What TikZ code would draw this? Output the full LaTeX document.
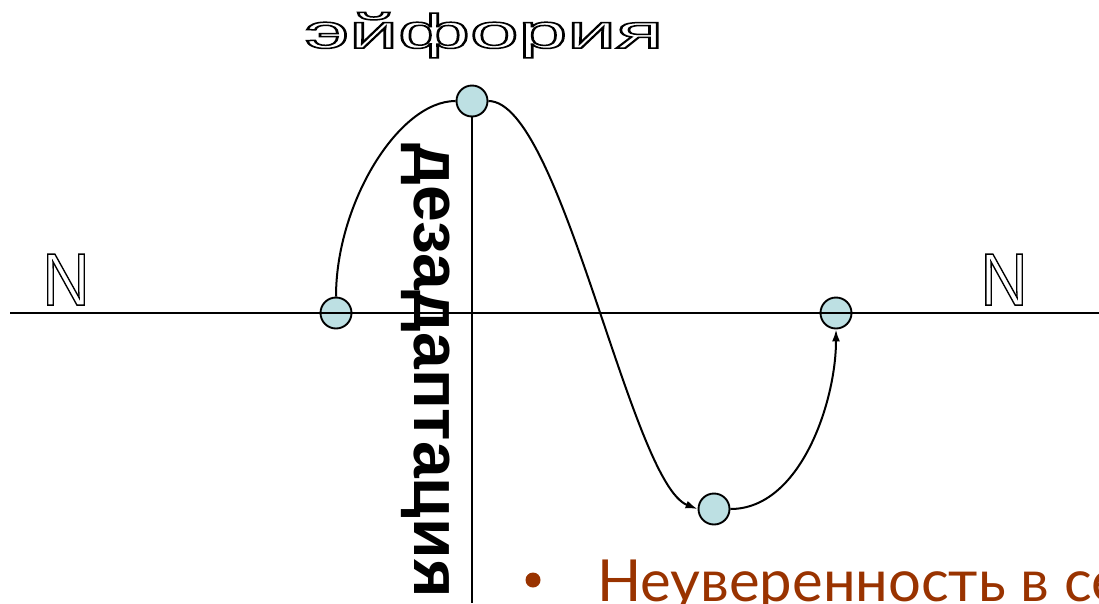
\documentclass[tikz,border=0pt]{standalone}
\usepackage{fontspec}
\setmainfont{Liberation Sans}
\newfontfamily\bulletfont{Lato}
\usetikzlibrary{arrows.meta}
\definecolor{pointfill}{HTML}{BDE0E3}
\definecolor{rust}{HTML}{993300}
% hollow letters: stroke the glyph outlines only
\newcommand{\outlined}[1]{\special{pdf:literal direct 1 Tr 1.5 w}#1\special{pdf:literal direct 0 Tr}}

\begin{document}
\begin{tikzpicture}[
  x=1pt, y=-1pt,
  >={Latex[length=12pt, width=8pt]},
  point/.style={circle, draw, line width=1.9pt, fill=pointfill, minimum size=31pt, inner sep=0pt},
  axis/.style={line width=2.1pt},
  curve/.style={line width=2pt},
]
\useasboundingbox (0,0) rectangle (1099,603);
\clip (0,0) rectangle (1099,603);

% State points
\node[point] (start)  at (336,313) {};
\node[point] (peak)   at (472,101) {};
\node[point] (trough) at (714,509) {};
\node[point] (finish) at (836,313) {};

% Axes (on top of the points)
\coordinate (xaxis west)  at (10,313);
\coordinate (xaxis east)  at (1099,313);
\coordinate (yaxis south) at (472,603);
\draw[axis] (xaxis west) -- (xaxis east);
\draw[axis] (peak.south) -- (yaxis south);

% Course of the curve
\draw[curve] (start.north) .. controls +(0,-93) and +(-57,0) .. (peak.west);
\draw[curve, ->] (peak.east) .. controls +(73,0) and +(-67,-26) .. (trough.west);
\draw[curve, ->] (trough.east) .. controls +(70,0) and +(0,72) .. (finish.south);

% Labels
\node[anchor=base, inner sep=0pt, xscale=1.82, font=\fontsize{48}{48}\selectfont]
  (euphoria) at (484,48) {\outlined{эйфория}};
\node[anchor=base, inner sep=0pt, xscale=0.88, font=\fontsize{74}{74}\selectfont]
  (norm west) at (66,305) {\outlined{N}};
\node[anchor=base, inner sep=0pt, xscale=0.88, font=\fontsize{74}{74}\selectfont]
  (norm east) at (1004,305) {\outlined{N}};
\node[rotate=-90, anchor=base west, inner sep=0pt, font=\bfseries\fontsize{66}{66}\selectfont]
  (disadapt) at (414,143) {дезадаптация};

% Bullet line at the bottom
\node[circle, fill=rust, minimum size=15pt, inner sep=0pt] (bullet) at (533,580) {};
\node[anchor=base west, inner sep=0pt, text=rust, font=\bulletfont\fontsize{58}{58}\selectfont]
  (doubt) at (597,601) {Неуверенность в себе};

\end{tikzpicture}
\end{document}
